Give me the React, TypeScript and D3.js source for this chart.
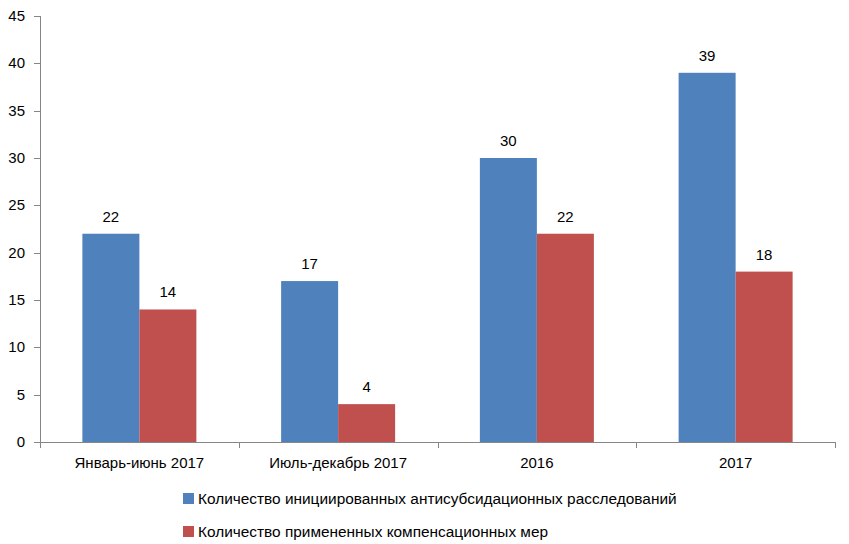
import React from "react";
import * as d3 from "d3";

const categories = ["Январь-июнь 2017", "Июль-декабрь 2017", "2016", "2017"];
const initiated = [22, 17, 30, 39];
const applied = [14, 4, 22, 18];
const seriesNames = [
  "Количество инициированных антисубсидационных расследований",
  "Количество примененных компенсационных мер",
];
const colors = ["#4F81BD", "#C0504D"];
const yTicks = [0, 5, 10, 15, 20, 25, 30, 35, 40, 45];

const W = 849;
const H = 544;
const FONT = "'Liberation Sans', Arial, sans-serif";

export default function App() {
  const x0 = d3.scaleBand<string>().domain(categories).range([40, 835]).paddingInner(0).paddingOuter(0);
  const groupW = x0.bandwidth() * (114 / 198.75);
  const x1 = d3.scaleBand<number>().domain([0, 1]).range([0, groupW]);
  const y = d3.scaleLinear().domain([0, 45]).range([442, 16]);
  const series = [initiated, applied];
  const axisColor = "#868686";

  return (
    <svg width={W} height={H} style={{ position: "absolute", left: 0, top: 0, background: "#fff" }} fontFamily={FONT}>
      {/* y axis */}
      <line x1={40.5} x2={40.5} y1={y(45)} y2={y(0)} stroke={axisColor} />
      {yTicks.map((t) => (
        <g key={t}>
          <line x1={34} x2={40.5} y1={Math.round(y(t)) + 0.5} y2={Math.round(y(t)) + 0.5} stroke={axisColor} />
          <text x={25} y={y(t) + 5} textAnchor="end" fontSize={15} fill="#000">{t}</text>
        </g>
      ))}
      {/* bars */}
      {categories.map((c, i) => {
        const gx = (x0(c) as number) + (x0.bandwidth() - groupW) / 2;
        return (
          <g key={c}>
            {series.map((s, k) => (
              <g key={k}>
                <rect x={gx + (x1(k) as number)} width={x1.bandwidth()} y={y(s[i])} height={y(0) - y(s[i])} fill={colors[k]} />
                <text x={gx + (x1(k) as number) + x1.bandwidth() / 2} y={y(s[i]) - 12} textAnchor="middle" fontSize={15} fill="#000">{s[i]}</text>
              </g>
            ))}
          </g>
        );
      })}
      {/* x axis */}
      <line x1={40} x2={835.5} y1={442.5} y2={442.5} stroke={axisColor} />
      {[...categories.map((c) => x0(c) as number), 835].map((v, i) => (
        <line key={i} x1={Math.round(v) + 0.5} x2={Math.round(v) + 0.5} y1={442} y2={448} stroke={axisColor} />
      ))}
      {categories.map((c) => (
        <text key={c} x={(x0(c) as number) + x0.bandwidth() / 2} y={468} textAnchor="middle" fontSize={15} fill="#000">{c}</text>
      ))}
      {/* legend */}
      {seriesNames.map((n, k) => (
        <g key={n}>
          <rect x={183} y={493 + k * 33} width={11} height={11} fill={colors[k]} />
          <text x={198} y={504 + k * 33} fontSize={15.4} fill="#000">{n}</text>
        </g>
      ))}
    </svg>
  );
}
